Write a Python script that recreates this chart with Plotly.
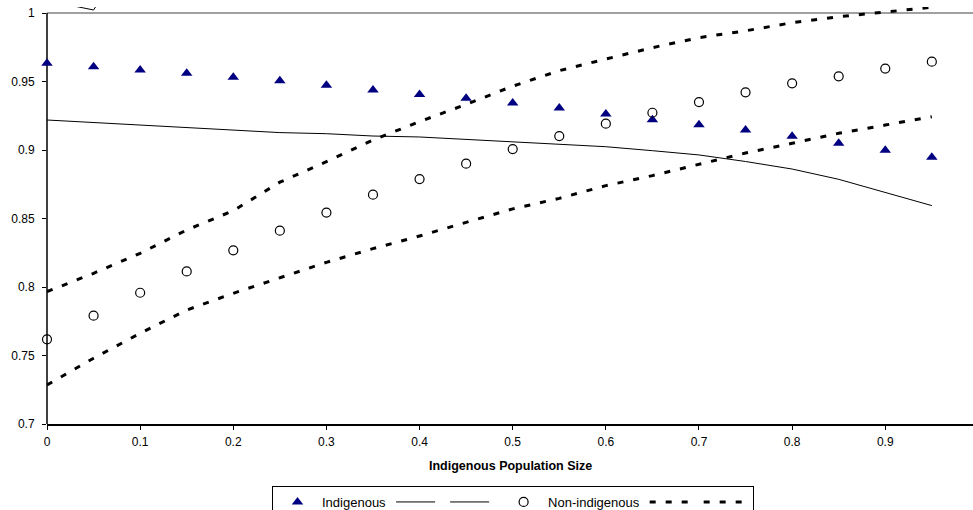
import plotly.graph_objects as go

x_vals = [0, 0.05, 0.1, 0.15, 0.2, 0.25, 0.3, 0.35, 0.4, 0.45, 0.5,
          0.55, 0.6, 0.65, 0.7, 0.75, 0.8, 0.85, 0.9, 0.95]

indigenous = [0.9633, 0.9608, 0.9584, 0.9560, 0.9531, 0.9505, 0.9472, 0.9438, 0.9406, 0.9377,
              0.9343, 0.9307, 0.9263, 0.9221, 0.9185, 0.9146, 0.9100, 0.9049, 0.8998, 0.8947]
indigenous_lower = [0.9219, 0.9200, 0.9180, 0.9163, 0.9144, 0.9127, 0.9119, 0.9102, 0.9095, 0.9078,
                    0.9056, 0.9042, 0.9024, 0.8995, 0.8964, 0.8916, 0.8861, 0.8786, 0.8688, 0.8594]
indigenous_upper = [1.0091, 1.0022, 1.0550, 1.0520, 1.0500, 1.0480, 1.0460, 1.0440, 1.0420, 1.0400,
                    1.0380, 1.0360, 1.0340, 1.0320, 1.0300, 1.0290, 1.0280, 1.0270, 1.0260, 1.0250]

non_indigenous = [0.7618, 0.7791, 0.7958, 0.8114, 0.8268, 0.8411, 0.8543, 0.8674, 0.8788, 0.8900,
                  0.9007, 0.9102, 0.9192, 0.9272, 0.9350, 0.9421, 0.9487, 0.9538, 0.9594, 0.9645]
non_indigenous_upper = [0.7966, 0.8100, 0.8246, 0.8416, 0.8557, 0.8765, 0.8915, 0.9073, 0.9207, 0.9333,
                        0.9466, 0.9579, 0.9664, 0.9747, 0.9820, 0.9870, 0.9929, 0.9973, 1.0007, 1.0042]
non_indigenous_lower = [0.7285, 0.7480, 0.7662, 0.7832, 0.7954, 0.8068, 0.8180, 0.8280, 0.8372, 0.8472,
                        0.8570, 0.8647, 0.8740, 0.8813, 0.8898, 0.8978, 0.9049, 0.9122, 0.9182, 0.9243]

y_ticks = [0.7, 0.75, 0.8, 0.85, 0.9, 0.95, 1]
y_tick_labels = ["0.7", "0.75", "0.8", "0.85", "0.9", "0.95", "1"]
x_ticks = [0, 0.1, 0.2, 0.3, 0.4, 0.5, 0.6, 0.7, 0.8, 0.9, 1.0]
x_tick_labels = ["0", "0.1", "0.2", "0.3", "0.4", "0.5", "0.6", "0.7", "0.8", "0.9", "1"]

FONT = "Liberation Sans, Arial, sans-serif"
W, H = 973, 510
ML, MT, MB, MR = 47, 7, 86, 0
plot_w = W - ML - MR
plot_h = H - MT - MB
px_per_x = 931.4
px_per_y = 1370.0

fig = go.Figure()
fig.add_trace(go.Scatter(x=x_vals, y=indigenous, mode="markers", name="Indigenous",
                         cliponaxis=False,
                         marker=dict(symbol="triangle-up", size=10, color="#000080")))
fig.add_trace(go.Scatter(x=x_vals, y=indigenous_lower, mode="lines", name="",
                         line=dict(color="black", width=1)))
fig.add_trace(go.Scatter(x=x_vals, y=indigenous_upper, mode="lines", name="",
                         line=dict(color="black", width=1)))
fig.add_trace(go.Scatter(x=x_vals, y=non_indigenous, mode="markers", name="Non-indigenous",
                         cliponaxis=False,
                         marker=dict(symbol="circle-open", size=9, color="black",
                                     line=dict(width=1.2, color="black"))))
fig.add_trace(go.Scatter(x=x_vals, y=non_indigenous_upper, mode="lines", name="",
                         line=dict(color="black", width=3, dash="6px,10px")))
fig.add_trace(go.Scatter(x=x_vals, y=non_indigenous_lower, mode="lines", name="",
                         line=dict(color="black", width=3, dash="6px,10px")))

fig.add_shape(type="line", xref="paper", yref="y", x0=0, x1=1, y0=1, y1=1,
              line=dict(color="#a0a0a0", width=2), layer="below")
fig.add_shape(type="line", xref="paper", yref="y", x0=0, x1=0, y0=0.7, y1=1,
              line=dict(color="black", width=1.5), layer="below")

fig.add_annotation(text="<b>Indigenous Population Size</b>", xref="paper", yref="paper",
                   x=0.5, y=-(466 - (H - MB)) / plot_h, yanchor="middle", xanchor="center",
                   showarrow=False, font=dict(family=FONT, size=12.5, color="black"))

fig.update_layout(
    width=W, height=H,
    margin=dict(l=ML, r=MR, t=MT, b=MB, pad=0, autoexpand=False),
    paper_bgcolor="white", plot_bgcolor="white",
    font=dict(family=FONT, size=12, color="black"),
    showlegend=True,
    legend=dict(orientation="h", x=(272 - ML) / plot_w, y=-(486 - (H - MB)) / plot_h,
                xanchor="left", yanchor="top", bordercolor="black", borderwidth=1,
                font=dict(family=FONT, size=13, color="black"), bgcolor="white",
                traceorder="normal", itemwidth=39),
    xaxis=dict(range=[0, plot_w / px_per_x], tickvals=x_ticks, ticktext=x_tick_labels,
               showgrid=False, zeroline=False, showline=True, linecolor="black", linewidth=1.5,
               ticks="outside", ticklen=4, tickcolor="black", tickwidth=1, automargin=False,
               ticklabelstandoff=2,
               tickfont=dict(family=FONT, size=12, color="black")),
    yaxis=dict(range=[1 - (H - MB - 13) / px_per_y, 1 + (13 - MT) / px_per_y],
               tickvals=y_ticks, ticktext=y_tick_labels,
               showgrid=False, zeroline=False, showline=False, automargin=False,
               ticks="outside", ticklen=4, tickcolor="black", tickwidth=1,
               ticklabelstandoff=5,
               tickfont=dict(family=FONT, size=12, color="black")),
)

fig.write_html("out.html", config={"displayModeBar": False},
               post_script="document.body.style.margin='0';document.body.style.overflow='hidden';")
